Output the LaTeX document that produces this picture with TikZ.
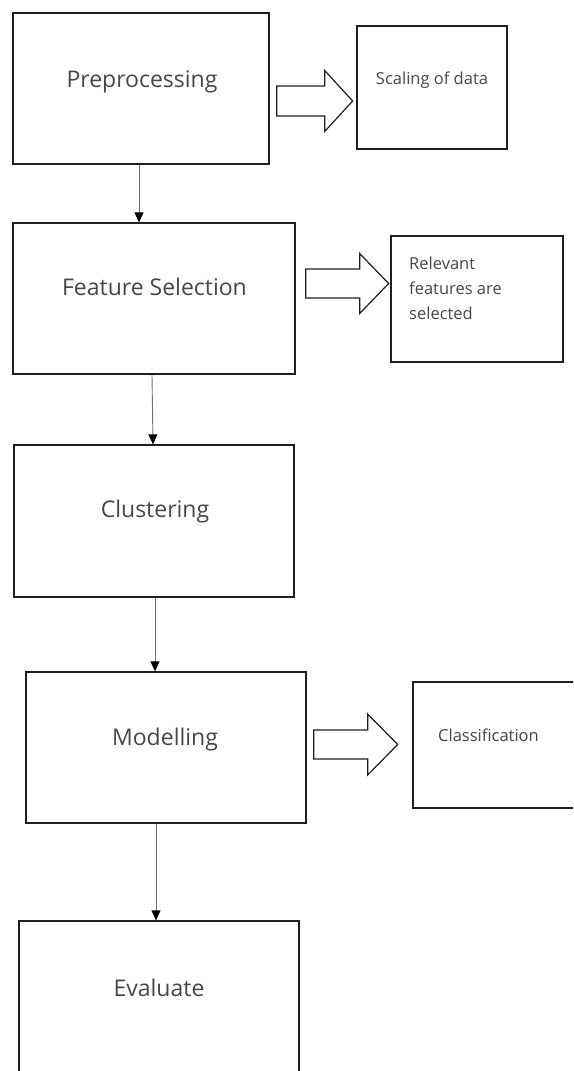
\documentclass[tikz,border=0pt]{standalone}
\usepackage{fontspec}
\setmainfont{Open Sans}
\usetikzlibrary{arrows.meta,calc}
\begin{document}
\begin{tikzpicture}[x=1pt,y=-1pt,
 box/.style={draw=black!88, line width=1.3pt, rectangle, inner sep=0pt},
 big/.style={text=black!72, font=\fontsize{23}{27}\selectfont, inner sep=0pt},
 small/.style={text=black!72, font=\fontsize{16.5}{25}\selectfont, inner sep=0pt},
 flow/.style={draw=black!55, line width=0.9pt, -{Triangle[length=10pt,width=9pt,fill=black,color=black]}},
 blockarrow/.style={draw=black!88, line width=1.2pt, fill=white, line join=miter}
]
\useasboundingbox (0,0) rectangle (573,1071);
\clip (0,0) rectangle (573,1071);

% boxes
\node[box, minimum width=256pt, minimum height=151pt] (pre)   at (141,88.5) {};
\node[box, minimum width=150pt, minimum height=123pt] (scale) at (432,87.5) {};
\node[box, minimum width=282pt, minimum height=151pt] (feat)  at (154,298.5) {};
\node[box, minimum width=172pt, minimum height=126pt] (rel)   at (477,299) {};
\node[box, minimum width=280pt, minimum height=152pt] (clus)  at (154,521) {};
\node[box, minimum width=280pt, minimum height=151pt] (model) at (166,747.5) {};
\node[box, minimum width=177pt, minimum height=126pt] (class) at (501.5,745) {};
\node[box, minimum width=280pt, minimum height=159pt] (eval)  at (159,1000.5) {};

% labels
\node[big] (preT)   at (142,82)  {Preprocessing};
\node[small] (scaleT) at (432,80) {Scaling of data};
\node[big] (featT)  at (154.5,287) {Feature Selection};
\node[small, align=left, anchor=west] (relT) at (409,288) {Relevant\\features are\\selected};
\node[big] (clusT)  at (155,512) {Clustering};
\node[big] (modelT) at (165,740) {Modelling};
\node[small] (classT) at (488.5,735) {Classification};
\node[big] (evalT)  at (159,988) {Evaluate};

% thin connectors
\draw[flow] ($(pre.south)+(-2,0)$) -- ($(feat.north)+(-15,0)$);
\draw[flow] ($(feat.south)+(-2,0)$) -- ($(clus.north)+(-1,0)$);
\draw[flow] ($(clus.south)+(1,0)$) -- ($(model.north)+(-11,0)$);
\draw[flow] ($(model.south)+(-10,0)$) -- ($(eval.north)+(-3,0)$);

% block arrows
\coordinate (ba1) at ($(pre.east)+(7,12.5)$);
\draw[blockarrow] (ba1) ++(0,-15) -- ++(48,0) -- ++(0,-15.5) -- ++(28,30.5) -- ++(-28,30.5) -- ++(0,-15.5) -- ++(-48,0) -- cycle;
\coordinate (ba2) at ($(feat.east)+(10,-15)$);
\draw[blockarrow] (ba2) ++(0,-14.5) -- ++(54,0) -- ++(0,-15.5) -- ++(29,30) -- ++(-29,30) -- ++(0,-15.5) -- ++(-54,0) -- cycle;
\coordinate (ba3) at ($(model.east)+(7,-3)$);
\draw[blockarrow] (ba3) ++(0,-14.5) -- ++(54,0) -- ++(0,-16) -- ++(30,30.5) -- ++(-30,30.5) -- ++(0,-16) -- ++(-54,0) -- cycle;
\end{tikzpicture}
\end{document}
